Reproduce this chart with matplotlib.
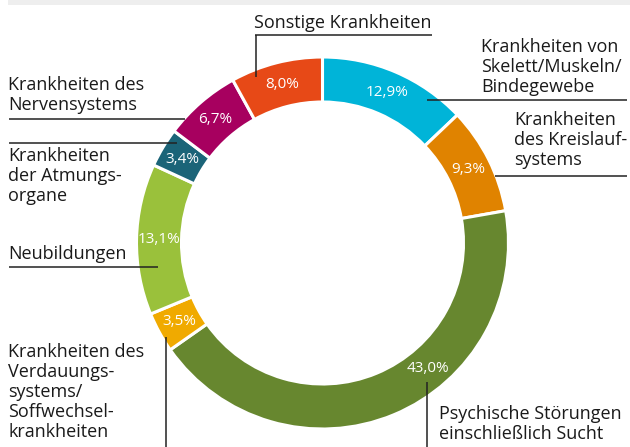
import numpy as np
import matplotlib
matplotlib.use("Agg")
import matplotlib.pyplot as plt
from matplotlib.patches import Rectangle

plt.rcParams['font.family'] = ['Open Sans', 'DejaVu Sans']

# Data (share of cases, %)
categories = [
    "Krankheiten von\nSkelett/Muskeln/\nBindegewebe",
    "Krankheiten\ndes Kreislauf-\nsystems",
    "Psychische Störungen\neinschließlich Sucht",
    "Krankheiten des\nVerdauungs-\nsystems/\nSoffwechsel-\nkrankheiten",
    "Neubildungen",
    "Krankheiten\nder Atmungs-\norgane",
    "Krankheiten des\nNervensystems",
    "Sonstige Krankheiten",
]
values = [12.9, 9.3, 43.0, 3.5, 13.1, 3.4, 6.7, 8.0]
colors = ["#00b4d8", "#e08300", "#67872f", "#f0aa00",
          "#9ac13b", "#1b6478", "#a7005f", "#e74917"]

W, H = 630, 447
fig = plt.figure(figsize=(W / 100, H / 100), dpi=100)
ax = fig.add_axes([0, 0, 1, 1])

cx, cy = 322.5, H - 243
R, ring = 186, 45

wedges, _ = ax.pie(values, radius=R, center=(cx, cy), startangle=90,
                   counterclock=False, colors=colors,
                   wedgeprops=dict(width=ring, edgecolor="white", linewidth=2.2))

# percentage labels inside the ring
label_angle_override = {2: -50.0}
r_lab = R - ring / 2
for i, (w, v) in enumerate(zip(wedges, values)):
    ang = label_angle_override.get(i, (w.theta1 + w.theta2) / 2)
    x = cx + r_lab * np.cos(np.radians(ang))
    y = cy + r_lab * np.sin(np.radians(ang))
    ax.text(x, y, f"{v:.1f}".replace(".", ",") + "%", color="white",
            fontsize=11, ha="center", va="center")

# outside labels
fs = 13
lw = 1.1
lc = "#222222"


def label(x, y, s, ha="left"):
    ax.text(x, H - y, s, fontsize=fs, ha=ha, va="center", color="#1a1a1a",
            linespacing=1.13)


def line(xs, ys):
    ax.plot(xs, [H - y for y in ys], color=lc, lw=lw, solid_capstyle="butt")


label(254, 23, categories[7])
line([255, 432], [35, 35])
line([256, 256], [35, 77])

label(481, 67, categories[0])
line([427, 627], [100, 100])

label(514, 140, categories[1])
line([495, 627], [176, 176])

label(8, 95, categories[6])
line([9, 185], [119, 119])

label(8, 176, categories[5])
line([9, 177], [143, 143])

label(8, 254, categories[4])
line([9, 158], [267, 267])

label(8, 392, categories[3])
line([166, 166], [337, 447])

label(439, 424, categories[2])
line([427, 427], [382, 447])

# thin grey band at the top
ax.add_patch(Rectangle((8, H - 5), W - 8, 5, color="#eeeeee", lw=0))

ax.set_xlim(0, W)
ax.set_ylim(0, H)
ax.set_aspect("equal")
ax.axis("off")

fig.savefig("out.png", dpi=100)
